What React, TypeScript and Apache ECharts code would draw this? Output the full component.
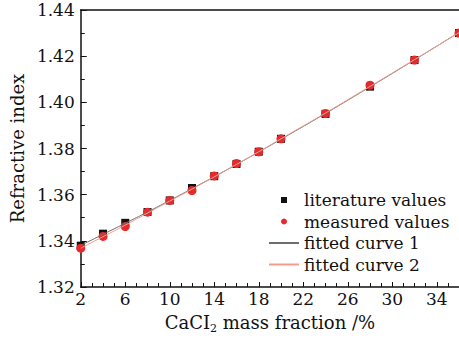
import React, { useEffect, useRef } from "react";
import * as echarts from "echarts";

const xValues = [2, 4, 6, 8, 10, 12, 14, 16, 18, 20, 24, 28, 32, 36];
const literatureValues = [1.3379, 1.3431, 1.3478, 1.3525, 1.3575, 1.3629, 1.368, 1.3733, 1.3786, 1.3842, 1.395, 1.4068, 1.4183, 1.43];
const measuredValues = [1.3368, 1.3419, 1.3462, 1.3524, 1.3575, 1.3618, 1.3681, 1.3735, 1.3786, 1.3842, 1.3952, 1.4074, 1.4183, 1.43];
const fitted1Values = [1.338, 1.3428, 1.3476, 1.3525, 1.3575, 1.3626, 1.3678, 1.3731, 1.3785, 1.384, 1.3952, 1.4067, 1.4184, 1.4303];
const fitted2Values = [1.3368, 1.3418, 1.3468, 1.352, 1.3572, 1.3624, 1.3677, 1.3731, 1.3786, 1.3842, 1.3954, 1.4069, 1.4185, 1.4302];

const seriesNames = ["literature values", "measured values", "fitted curve 1", "fitted curve 2"];

const FONT = "DejaVu Serif";

const pairs = (ys: number[]) => xValues.map((x, i) => [x, ys[i]]);

export default function App() {
  const ref = useRef<HTMLDivElement>(null);
  useEffect(() => {
    if (!ref.current) return;
    const chart = echarts.init(ref.current, undefined, { renderer: "svg" });
    const hiddenSymbol = { color: "rgba(0,0,0,0)", borderWidth: 0, opacity: 0 };
    chart.setOption({
      animation: false,
      backgroundColor: "#ffffff",
      grid: { left: 76, top: 10, bottom: 45, right: -2, containLabel: false },
      xAxis: [
        {
          type: "value",
          min: 2,
          max: 36,
          interval: 4,
          name: "{a|CaCI}{s|2}{a| mass fraction /%}",
          nameLocation: "middle",
          nameGap: 24,
          nameTextStyle: {
            rich: {
              a: { fontFamily: FONT, fontSize: 18, color: "#111" },
              s: { fontFamily: FONT, fontSize: 11, color: "#111", padding: [12, 0, 0, 0] },
            },
          },
          axisLine: { show: true, lineStyle: { color: "#111", width: 1.5 } },
          axisTick: { show: true, inside: true, length: 5, lineStyle: { color: "#111", width: 1 } },
          minorTick: { show: true, splitNumber: 4, length: 4, lineStyle: { color: "#111", width: 1 } },
          axisLabel: { margin: 3, fontFamily: FONT, fontSize: 17, color: "#111", showMaxLabel: false },
          splitLine: { show: false },
        },
        {
          type: "value",
          position: "top",
          min: 2,
          max: 36,
          axisLine: { show: true, lineStyle: { color: "#111", width: 1.5 } },
          axisTick: { show: false },
          axisLabel: { show: false },
          splitLine: { show: false },
        },
      ],
      yAxis: {
        type: "value",
        min: 1.32,
        max: 1.44,
        interval: 0.02,
        name: "Refractive index",
        nameLocation: "middle",
        nameGap: 52,
        nameTextStyle: { fontFamily: FONT, fontSize: 18, color: "#111" },
        axisLine: { show: true, lineStyle: { color: "#111", width: 1.5 } },
        axisTick: { show: true, inside: true, length: 6, lineStyle: { color: "#111", width: 1 } },
        minorTick: { show: true, splitNumber: 2, length: 4, lineStyle: { color: "#111", width: 1 } },
        axisLabel: {
          margin: 6,
          fontFamily: FONT,
          fontSize: 17,
          color: "#111",
          formatter: (v: number) => v.toFixed(2),
        },
        splitLine: { show: false },
      },
      legend: {
        orient: "vertical",
        left: 263,
        top: 186,
        itemWidth: 30,
        itemHeight: 6,
        itemGap: 3.5,
        data: [
          { name: seriesNames[0], icon: "path://M0,0L10,0L10,10L0,10Z" },
          { name: seriesNames[1], icon: "circle" },
          { name: seriesNames[2], itemStyle: hiddenSymbol },
          { name: seriesNames[3], itemStyle: hiddenSymbol },
        ],
        textStyle: { fontFamily: FONT, fontSize: 17, color: "#111", lineHeight: 18, padding: [0, 0, 0, 0] },
      },
      series: [
        {
          name: seriesNames[0],
          type: "scatter",
          symbol: "rect",
          symbolSize: 8,
          itemStyle: { color: "#111111", opacity: 1 },
          data: pairs(literatureValues),
        },
        {
          name: seriesNames[1],
          type: "scatter",
          symbol: "circle",
          symbolSize: 9,
          itemStyle: { color: "#e8282b", opacity: 1 },
          data: pairs(measuredValues),
        },
        {
          name: seriesNames[2],
          type: "line",
          showSymbol: false,
          symbol: "none",
          smooth: true,
          lineStyle: { color: "#6e6e6e", width: 1 },
          itemStyle: { color: "#6e6e6e" },
          data: pairs(fitted1Values),
        },
        {
          name: seriesNames[3],
          type: "line",
          showSymbol: false,
          symbol: "none",
          smooth: true,
          lineStyle: { color: "#f39c8c", width: 1 },
          itemStyle: { color: "#f39c8c" },
          data: pairs(fitted2Values),
        },
      ],
    });
    return () => chart.dispose();
  }, []);
  return <div ref={ref} style={{ width: 459, height: 339, position: "absolute", left: 0, top: 0 }} />;
}
